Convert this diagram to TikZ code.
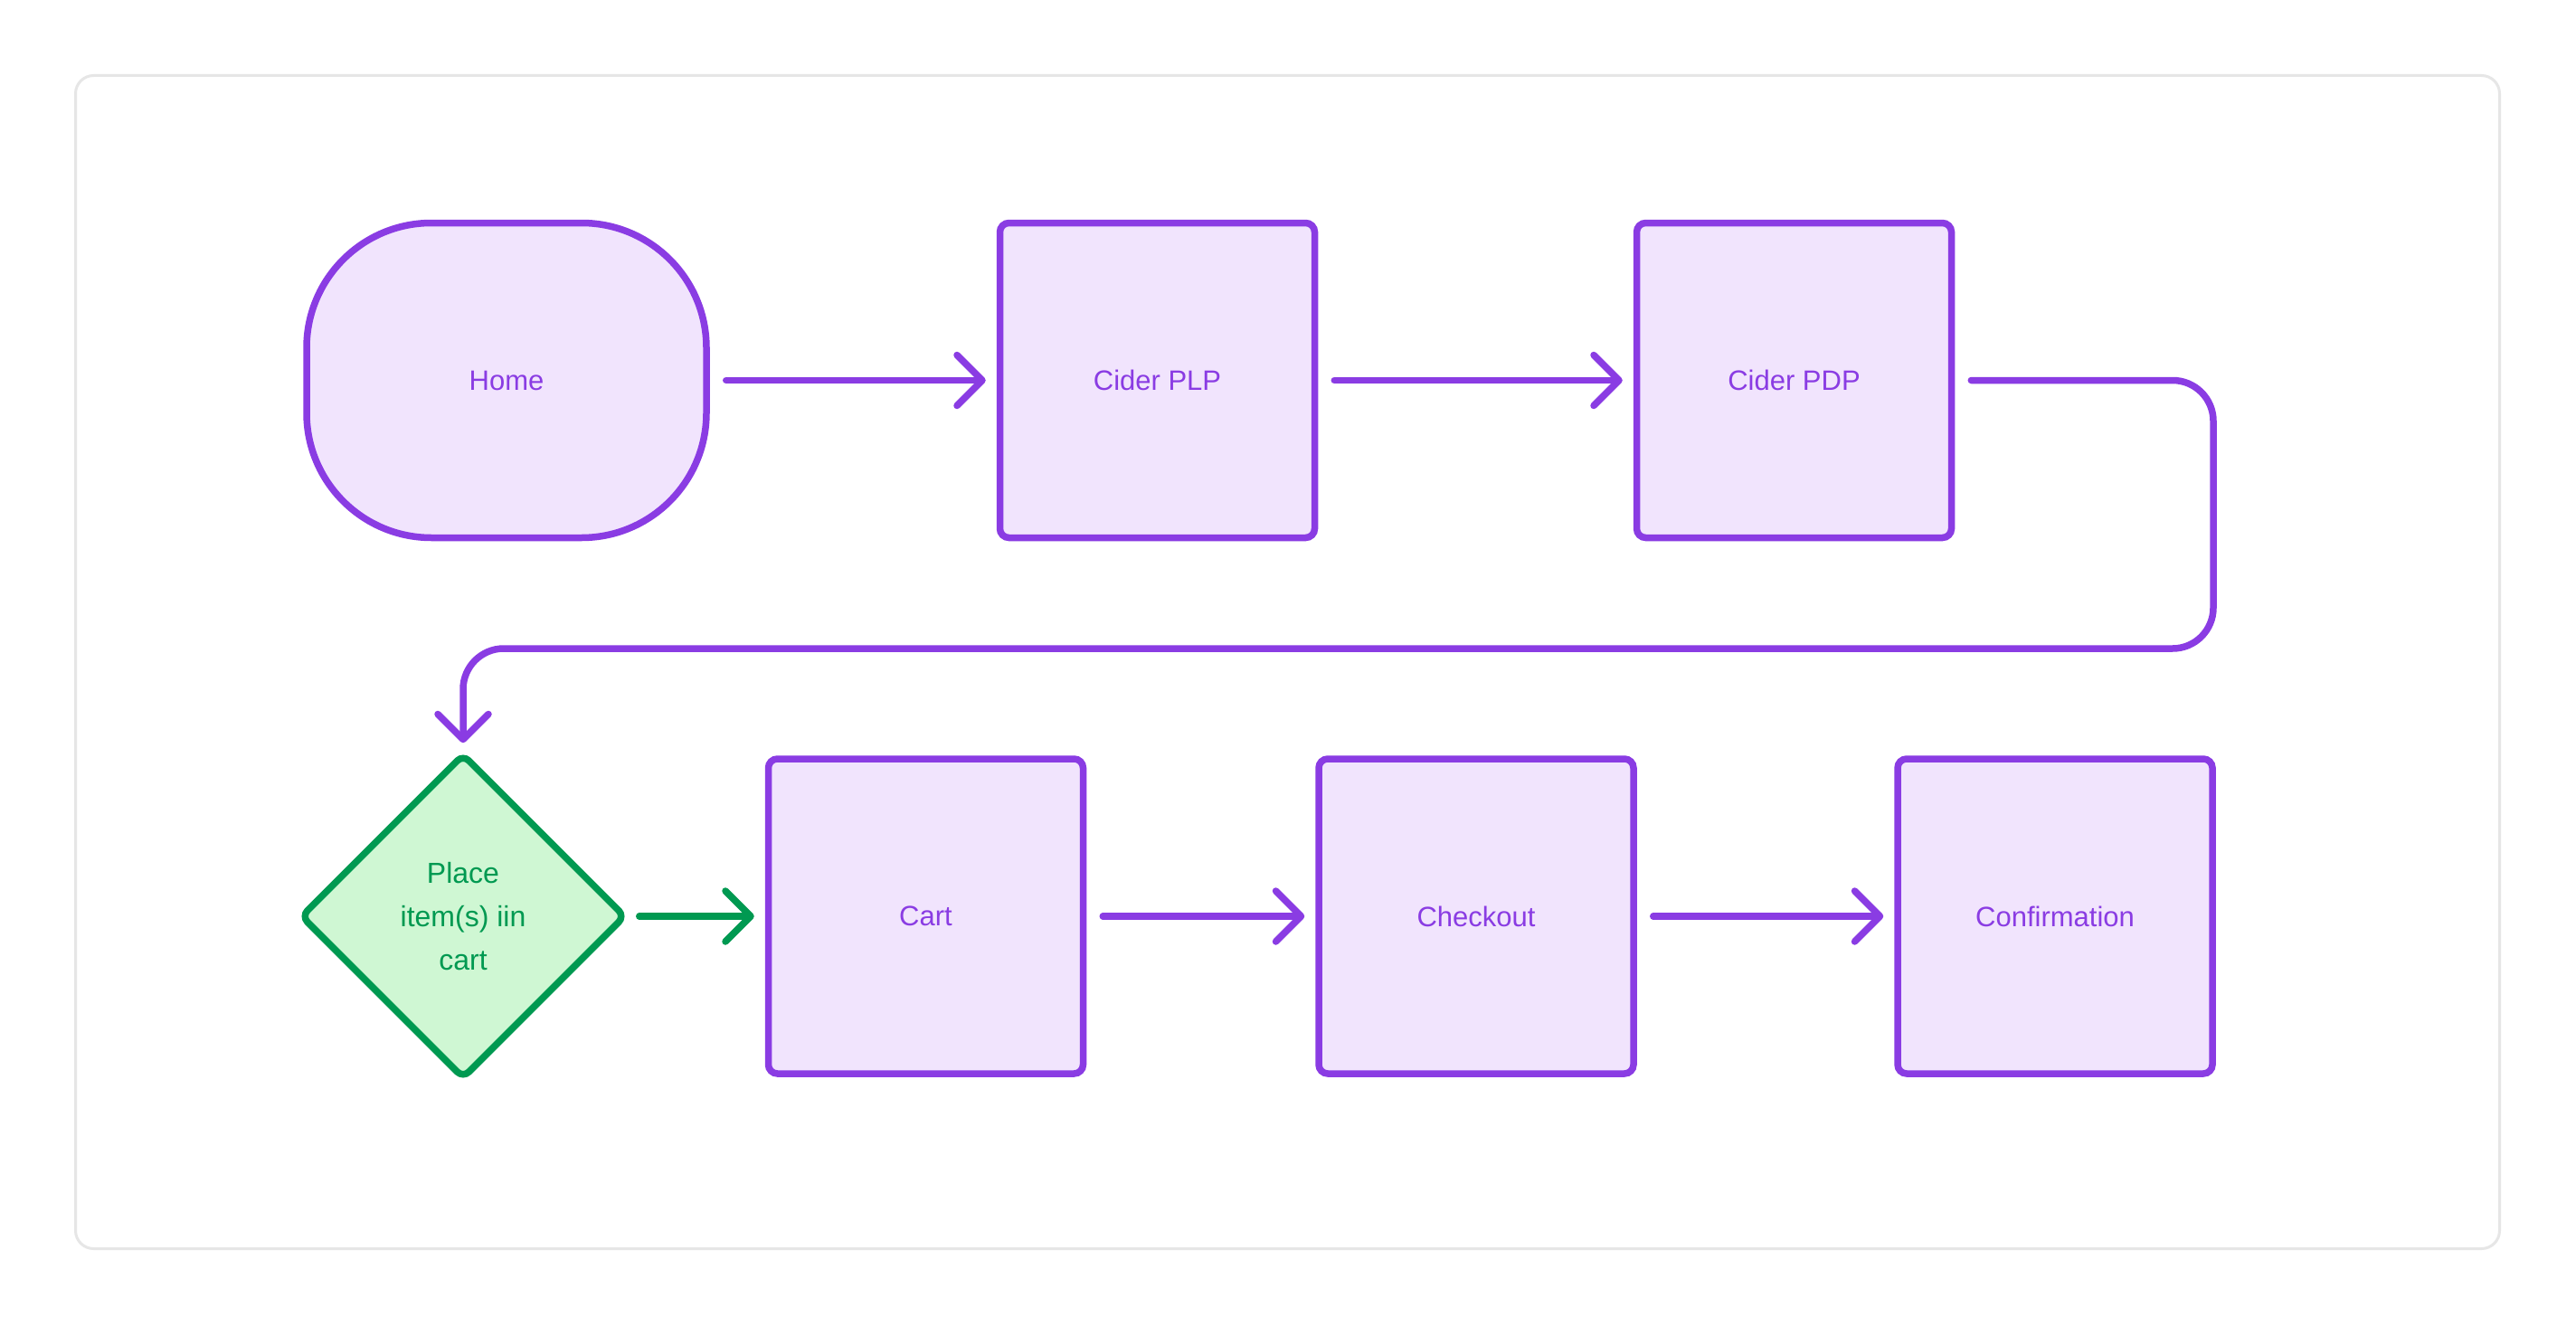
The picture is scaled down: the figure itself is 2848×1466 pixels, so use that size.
\documentclass[tikz,border=0pt]{standalone}
\usepackage{fontspec}
\setmainfont{Liberation Sans}
\usetikzlibrary{arrows.meta,shapes.geometric}
\definecolor{pstroke}{HTML}{8A3CE3}
\definecolor{pfill}{HTML}{F1E4FD}
\definecolor{gstroke}{HTML}{009951}
\definecolor{gfill}{HTML}{CFF7D3}
\definecolor{framegray}{HTML}{E6E6E6}
\begin{document}
\begin{tikzpicture}[x=1pt,y=-1pt,
  box/.style={draw=pstroke, fill=pfill, line width=7.5pt, rounded corners=10pt,
    minimum width=348pt, minimum height=348pt, inner sep=0pt, text=pstroke,
    font=\fontsize{31pt}{48pt}\selectfont},
  startbox/.style={box, minimum width=442pt, rounded corners=138pt},
  decision/.style={shape=diamond, aspect=1, draw=gstroke, fill=gfill, line width=7.5pt,
    rounded corners=9pt, minimum width=360pt, minimum height=360pt, inner sep=0pt,
    text=gstroke, align=center, font=\fontsize{32pt}{48pt}\selectfont},
  conn/.style={draw=pstroke, line width=7.5pt, line cap=round, line join=round,
    -{Straight Barb[length=28pt,width=56pt,round]}, shorten <=18pt, shorten >=12pt},
  gconn/.style={conn, draw=gstroke, shorten <=11pt}
]
\useasboundingbox (0,0) rectangle (2848,1466);
\fill[white] (0,0) rectangle (2848,1466);
\draw[framegray, line width=3pt, rounded corners=20pt] (83.5,83.5) rectangle (2763.5,1380.5);

\node[startbox] (home) at (560,420.5) {Home};
\node[box] (plp) at (1279.5,420.5) {Cider PLP};
\node[box] (pdp) at (1983.5,420.5) {Cider PDP};

\node[decision] (place) at (512,1013) {Place\\item(s) iin\\cart};
\node[box] (cart) at (1023.5,1013) {Cart};
\node[box] (checkout) at (1632,1013) {Checkout};
\node[box] (confirm) at (2272,1013) {Confirmation};

\coordinate (bend) at (2447,717);

\draw[conn] (home.east) -- (plp.west);
\draw[conn] (plp.east) -- (pdp.west);
\draw[conn, rounded corners=45pt, shorten >=8pt] (pdp.east) -| (bend) -| (place.north);
\draw[gconn] (place.east) -- (cart.west);
\draw[conn] (cart.east) -- (checkout.west);
\draw[conn] (checkout.east) -- (confirm.west);
\end{tikzpicture}
\end{document}
